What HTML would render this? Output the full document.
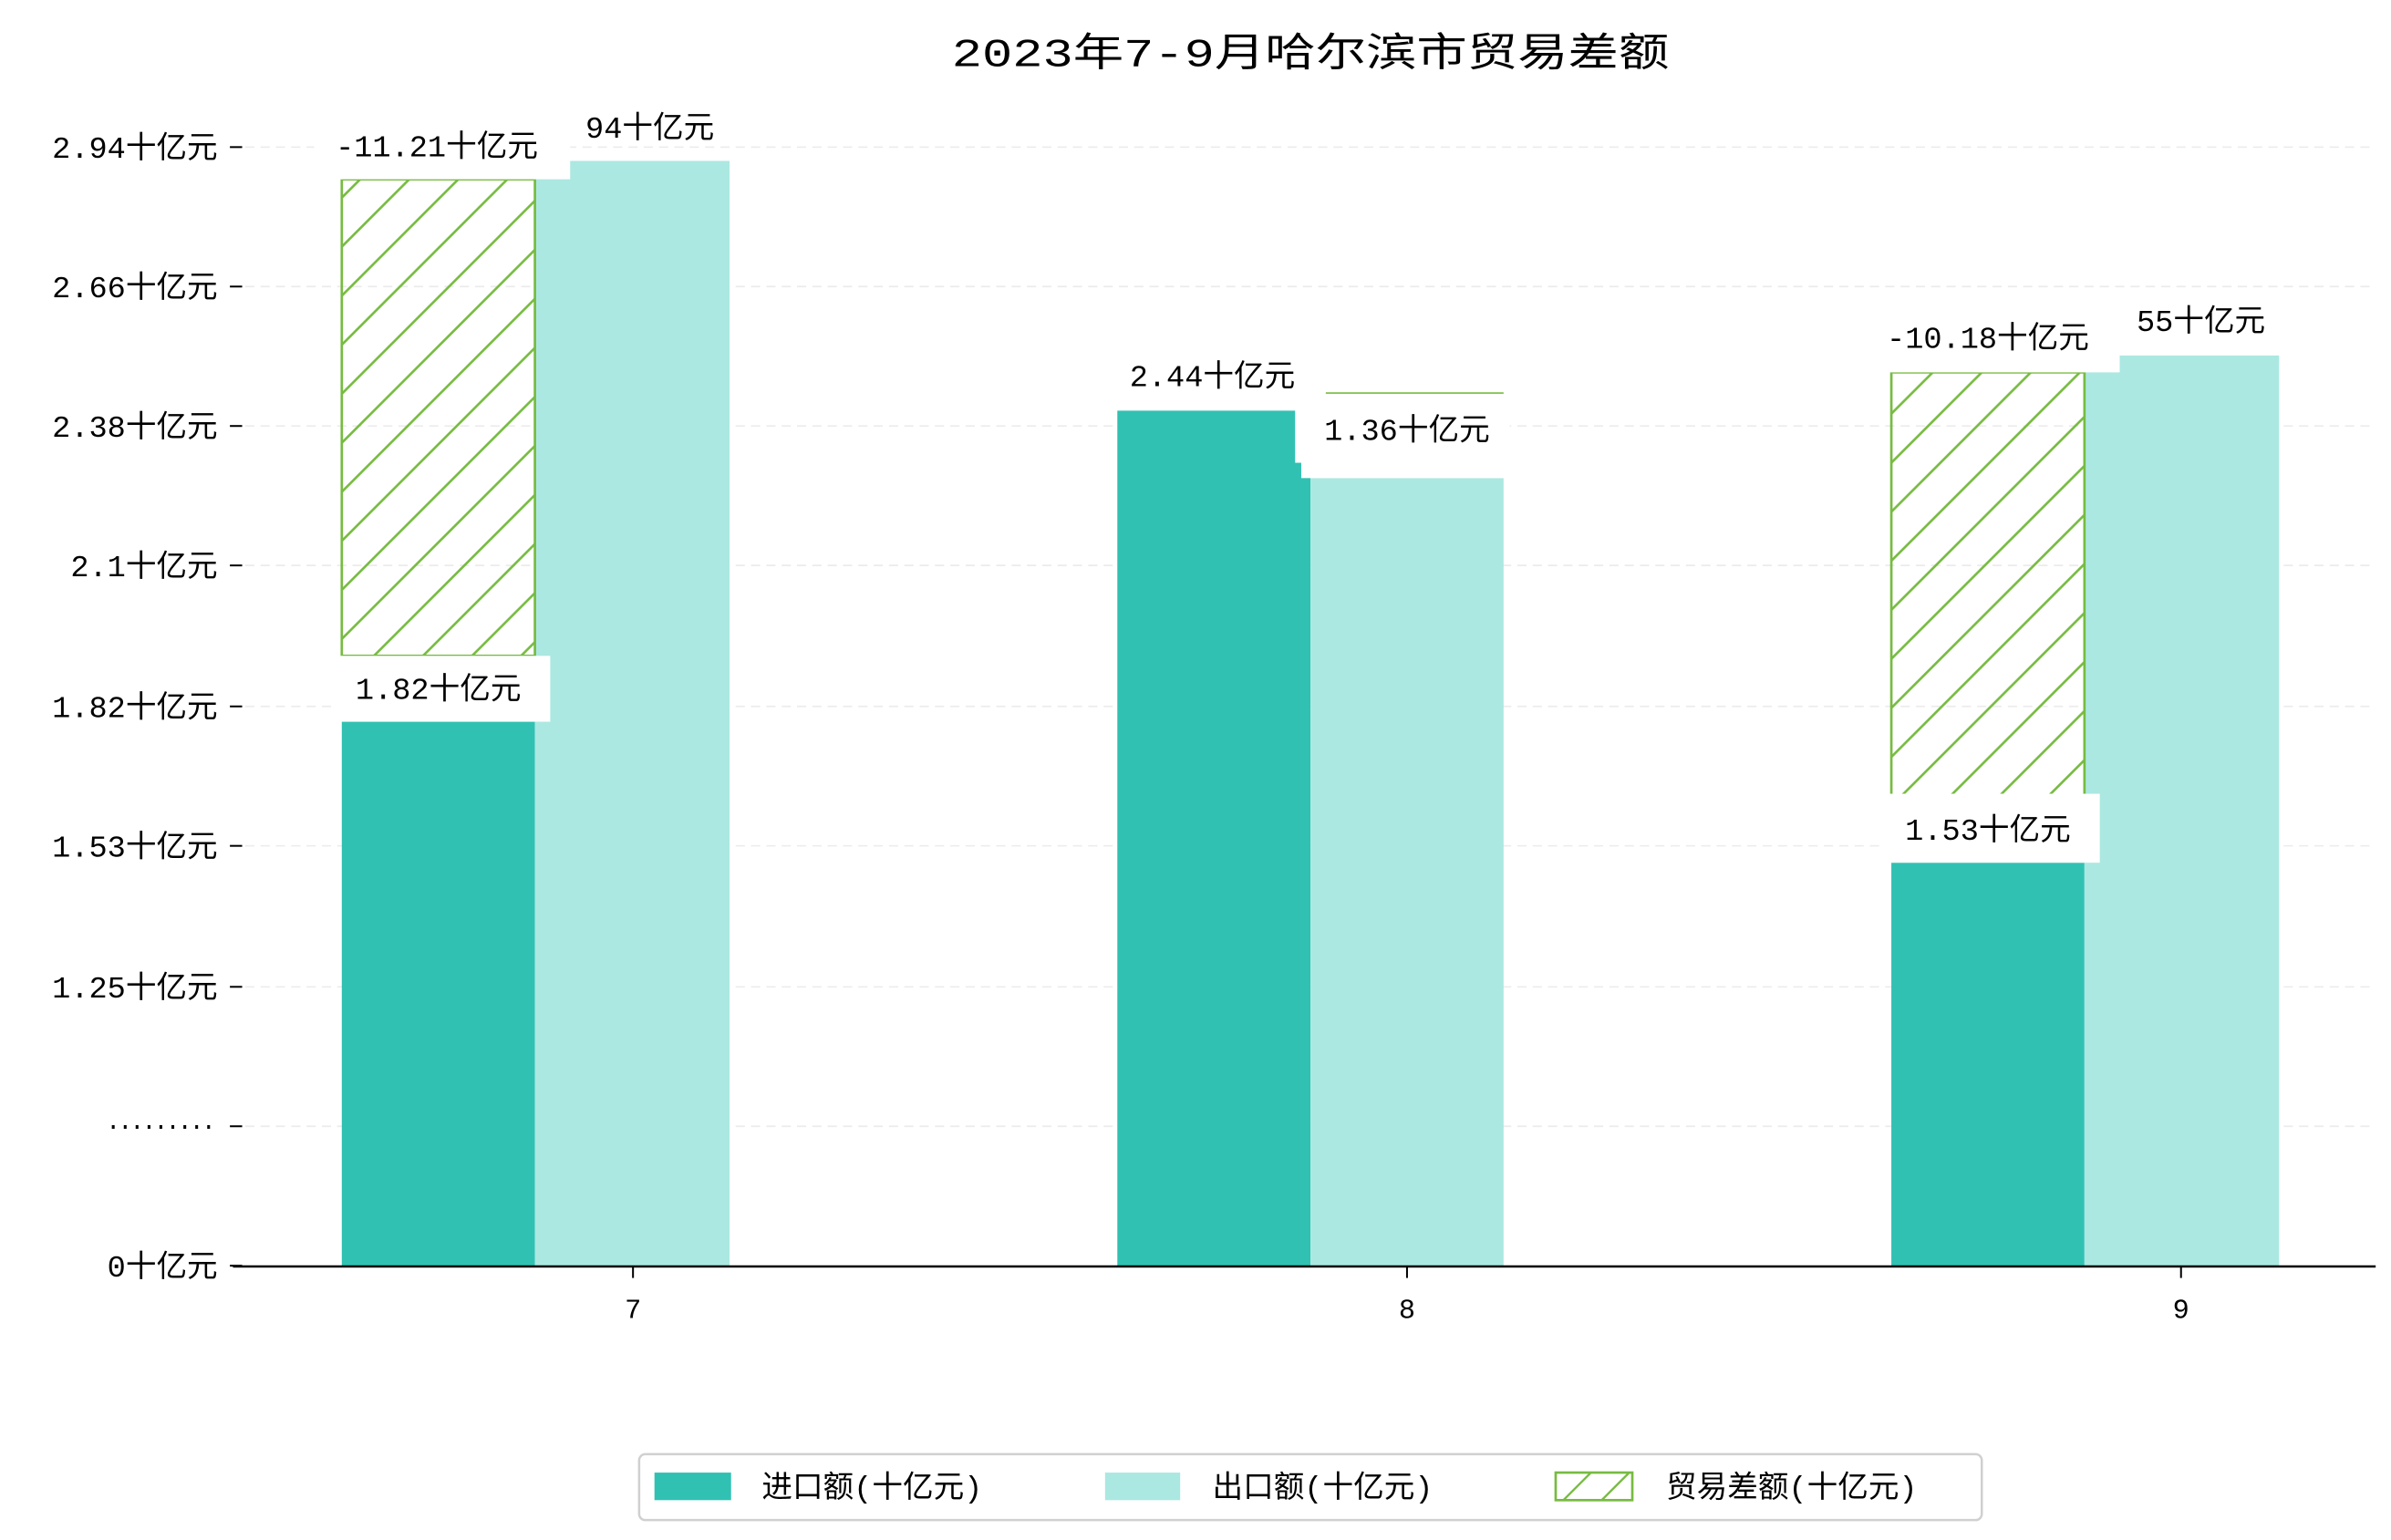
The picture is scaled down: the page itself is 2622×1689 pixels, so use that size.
<!DOCTYPE html>
<html><head><meta charset="utf-8"><style>html,body{margin:0;padding:0;background:#fff}svg{display:block}text{font-family:"Liberation Mono","WenQuanYi Zen Hei","Noto Sans CJK SC",monospace;fill:#000}</style></head>
<body>
<svg width="2622" height="1689" viewBox="0 0 1560 1005" preserveAspectRatio="none" xmlns="http://www.w3.org/2000/svg">
<defs>
<pattern id="h" patternUnits="userSpaceOnUse" width="32" height="32">
<path d="M-8 40 L40 -8 M-40 40 L40 -40 M-8 72 L72 -8" stroke="#77bb41" stroke-width="1.6"/>
</pattern>
</defs>
<text x="855" y="43" font-size="26" text-anchor="middle" textLength="468" lengthAdjust="spacingAndGlyphs">2023年7-9月哈尔滨市贸易差额</text>
<g stroke="#ececec" stroke-width="1" stroke-dasharray="6,4">
<line x1="160" x2="1550" y1="96" y2="96"/><line x1="160" x2="1550" y1="187" y2="187"/>
<line x1="160" x2="1550" y1="278" y2="278"/><line x1="160" x2="1550" y1="369" y2="369"/>
<line x1="160" x2="1550" y1="461" y2="461"/><line x1="160" x2="1550" y1="552" y2="552"/>
<line x1="160" x2="1550" y1="644" y2="644"/><line x1="160" x2="1550" y1="735" y2="735"/>
</g>
<g stroke="#000" stroke-width="1.2">
<line x1="150" x2="158" y1="96" y2="96"/><line x1="150" x2="158" y1="187" y2="187"/>
<line x1="150" x2="158" y1="278" y2="278"/><line x1="150" x2="158" y1="369" y2="369"/>
<line x1="150" x2="158" y1="461" y2="461"/><line x1="150" x2="158" y1="552" y2="552"/>
<line x1="150" x2="158" y1="644" y2="644"/><line x1="150" x2="158" y1="735" y2="735"/>
<line x1="150" x2="158" y1="826" y2="826"/>
<line x1="413" x2="413" y1="826" y2="834"/><line x1="918" x2="918" y1="826" y2="834"/><line x1="1423" x2="1423" y1="826" y2="834"/>
</g>
<g font-size="20" text-anchor="end">
<text x="142" y="103">2.94十亿元</text><text x="142" y="194">2.66十亿元</text>
<text x="142" y="285">2.38十亿元</text><text x="142" y="376">2.1十亿元</text>
<text x="142" y="468">1.82十亿元</text><text x="142" y="559">1.53十亿元</text>
<text x="142" y="651">1.25十亿元</text>
<text x="142" y="833">0十亿元</text>
</g>
<text x="70" y="740" font-size="16" textLength="70" lengthAdjust="spacingAndGlyphs" font-weight="bold">·········</text>
<!-- bars -->
<rect x="223" y="471" width="126" height="355" fill="#31c1b3"/>
<rect x="349" y="105" width="127" height="721" fill="#abe8e1"/>
<rect x="223" y="117" width="126" height="311" fill="url(#h)" stroke="#77bb41" stroke-width="1.6"/>
<rect x="729" y="268" width="126" height="558" fill="#31c1b3"/>
<rect x="855" y="312" width="126" height="514" fill="#abe8e1"/>
<line x1="865" x2="981" y1="256.5" y2="256.5" stroke="#77bb41" stroke-width="1"/>
<rect x="1234" y="563" width="126" height="263" fill="#31c1b3"/>
<rect x="1360" y="232" width="127" height="594" fill="#abe8e1"/>
<rect x="1234" y="243" width="126" height="277" fill="url(#h)" stroke="#77bb41" stroke-width="1.6"/>
<!-- label boxes -->
<g fill="#fff">
<rect x="205" y="78" width="167" height="39"/>
<rect x="218" y="428" width="141" height="43"/>
<rect x="849" y="262" width="136" height="50"/><rect x="845" y="262" width="10" height="40"/>
<rect x="1215" y="202" width="168" height="41"/>
<rect x="1229" y="518" width="141" height="45"/>
</g>
<g font-size="20" text-anchor="middle">
<text x="285" y="102">-11.21十亿元</text>
<text x="424" y="90">94十亿元</text>
<text x="286" y="456">1.82十亿元</text>
<text x="791" y="252">2.44十亿元</text>
<text x="918" y="287">1.36十亿元</text>
<text x="1297" y="227">-10.18十亿元</text>
<text x="1436" y="216">55十亿元</text>
<text x="1297" y="548">1.53十亿元</text>
</g>
<line x1="152" x2="1550" y1="826.5" y2="826.5" stroke="#000" stroke-width="1.5"/>
<g font-size="18" text-anchor="middle">
<text x="413" y="860">7</text><text x="918" y="860">8</text><text x="1423" y="860">9</text>
</g>
<!-- legend -->
<rect x="417" y="949" width="876" height="43" rx="4" fill="#fff" stroke="#d0d0d0" stroke-width="1.5"/>
<rect x="427" y="961" width="50" height="18" fill="#31c1b3"/>
<rect x="721" y="961" width="49" height="18" fill="#abe8e1"/>
<rect x="1015" y="961" width="50" height="18" fill="#fff" stroke="#77bb41" stroke-width="1.6"/>
<path d="M1020 979 L1038 961 M1045 979 L1063 961" stroke="#77bb41" stroke-width="1.4"/>
<g font-size="20">
<text x="497" y="977">进口额(十亿元)</text>
<text x="791" y="977">出口额(十亿元)</text>
<text x="1087" y="977">贸易差额(十亿元)</text>
</g>
</svg>
</body></html>
